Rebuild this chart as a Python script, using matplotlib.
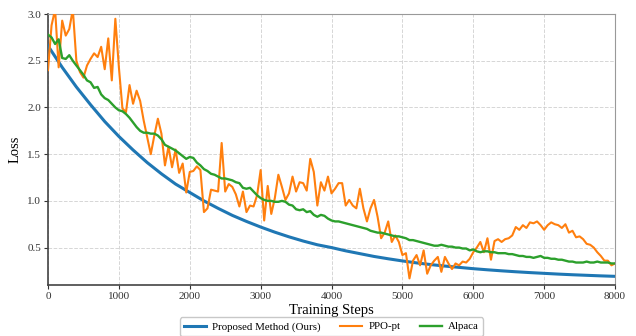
import matplotlib
matplotlib.use("Agg")
import matplotlib.pyplot as plt
import numpy as np

steps = list(range(0, 8001, 50))
blue_steps = list(range(0, 8001, 200))

proposed = [2.66, 2.43, 2.22, 2.03, 1.85, 1.69, 1.545, 1.41, 1.29, 1.18, 1.09,
            1.00, 0.92, 0.845, 0.78, 0.72, 0.665, 0.615, 0.57, 0.53, 0.50,
            0.465, 0.435, 0.405, 0.38, 0.357, 0.336, 0.318, 0.302, 0.288, 0.274,
            0.262, 0.251, 0.241, 0.232, 0.224, 0.216, 0.209, 0.203, 0.197, 0.192]

ppo_pt = [2.40, 2.88, 3.05, 2.43, 2.93, 2.77, 2.84, 3.05, 2.50, 2.38,
          2.32, 2.45, 2.52, 2.58, 2.54, 2.65, 2.41, 2.74, 2.29, 2.95,
          2.43, 1.99, 1.95, 2.24, 2.04, 2.18, 2.07, 1.86, 1.68, 1.50,
          1.70, 1.88, 1.72, 1.38, 1.58, 1.36, 1.55, 1.30, 1.40, 1.09,
          1.31, 1.32, 1.37, 1.33, 0.88, 0.92, 1.12, 1.11, 1.10, 1.62,
          1.10, 1.18, 1.15, 1.07, 0.94, 1.10, 0.88, 0.95, 0.94, 1.06,
          1.33, 0.79, 1.16, 0.86, 1.03, 1.28, 1.15, 1.01, 1.08, 1.26,
          1.10, 1.20, 1.19, 1.11, 1.45, 1.31, 0.95, 1.20, 1.11, 1.26,
          1.08, 1.13, 1.19, 1.19, 0.95, 1.01, 0.95, 0.92, 1.13, 0.92,
          0.78, 0.92, 1.01, 0.83, 0.60, 0.66, 0.78, 0.56, 0.63, 0.56,
          0.42, 0.44, 0.17, 0.36, 0.42, 0.31, 0.47, 0.22, 0.31, 0.36,
          0.40, 0.24, 0.40, 0.33, 0.27, 0.33, 0.31, 0.35, 0.34, 0.38,
          0.45, 0.50, 0.56, 0.45, 0.60, 0.37, 0.57, 0.59, 0.56, 0.59,
          0.60, 0.63, 0.72, 0.69, 0.74, 0.71, 0.77, 0.76, 0.78, 0.74,
          0.69, 0.74, 0.77, 0.75, 0.74, 0.71, 0.75, 0.66, 0.68, 0.61,
          0.62, 0.59, 0.54, 0.53, 0.50, 0.45, 0.41, 0.36, 0.36, 0.31,
          0.33]

alpaca = [2.78, 2.75, 2.68, 2.73, 2.53, 2.52, 2.56, 2.50, 2.45, 2.40,
          2.35, 2.29, 2.27, 2.21, 2.22, 2.14, 2.10, 2.08, 2.04, 2.00,
          1.97, 1.96, 1.93, 1.89, 1.84, 1.79, 1.75, 1.73, 1.73, 1.72,
          1.72, 1.70, 1.66, 1.60, 1.58, 1.56, 1.54, 1.51, 1.48, 1.45,
          1.47, 1.46, 1.41, 1.38, 1.34, 1.32, 1.29, 1.28, 1.26, 1.24,
          1.24, 1.23, 1.22, 1.20, 1.19, 1.14, 1.13, 1.14, 1.10, 1.06,
          1.03, 1.01, 1.00, 1.00, 0.99, 0.99, 1.00, 0.99, 0.96, 0.95,
          0.91, 0.90, 0.91, 0.88, 0.89, 0.85, 0.83, 0.85, 0.84, 0.81,
          0.79, 0.78, 0.78, 0.77, 0.76, 0.75, 0.74, 0.73, 0.72, 0.71,
          0.70, 0.68, 0.67, 0.66, 0.66, 0.65, 0.64, 0.63, 0.62, 0.62,
          0.61, 0.60, 0.58, 0.58, 0.57, 0.56, 0.55, 0.54, 0.53, 0.52,
          0.52, 0.53, 0.52, 0.51, 0.51, 0.50, 0.50, 0.49, 0.49, 0.47,
          0.48, 0.46, 0.45, 0.46, 0.46, 0.45, 0.45, 0.44, 0.44, 0.44,
          0.43, 0.43, 0.42, 0.41, 0.41, 0.40, 0.40, 0.39, 0.40, 0.41,
          0.39, 0.39, 0.38, 0.38, 0.37, 0.37, 0.36, 0.35, 0.35, 0.34,
          0.34, 0.34, 0.35, 0.34, 0.34, 0.35, 0.34, 0.34, 0.34, 0.33,
          0.33]

x_ticks = [0, 1000, 2000, 3000, 4000, 5000, 6000, 7000, 8000]
y_ticks = [0.5, 1.0, 1.5, 2.0, 2.5, 3.0]

plt.rcParams['font.family'] = ['Liberation Serif', 'DejaVu Serif']

fig = plt.figure(figsize=(6.36, 3.36), dpi=100)
ax = fig.add_axes([0.0755, 0.152, 0.8915, 0.806])

ax.plot(blue_steps, proposed, color='#1f77b4', lw=2.2, label='Proposed Method (Ours)', zorder=3)
ax.plot(steps, ppo_pt, color='#ff7f0e', lw=1.5, label='PPO-pt', zorder=4)
ax.plot(steps, alpaca, color='#2ca02c', lw=1.7, label='Alpaca', zorder=5)

ax.set_xlim(0, 8000)
ax.set_ylim(0.1, 3.0)
ax.set_xticks(x_ticks)
ax.set_yticks(y_ticks)
ax.set_xticklabels([str(v) for v in x_ticks])
ax.set_yticklabels([f"{v:.1f}" for v in y_ticks])
ax.tick_params(labelsize=8, colors='#333333', length=3, pad=2)
ax.grid(True, linestyle='--', color='#cccccc', linewidth=0.7, alpha=0.8)
for s in ['top', 'right']:
    ax.spines[s].set_color('#999999')
for s in ['left', 'bottom']:
    ax.spines[s].set_color('#444444')
    ax.spines[s].set_linewidth(1.2)

ax.set_xlabel('Training Steps', fontsize=10.5, labelpad=2)
ax.set_ylabel('Loss', fontsize=10.5)

leg = ax.legend(loc='upper center', bbox_to_anchor=(0.5, -0.10), ncol=3,
                fontsize=7.8, frameon=True, edgecolor='#bbbbbb', fancybox=True,
                handlelength=2.0, handletextpad=0.6, columnspacing=1.8)

fig.savefig('out.png', dpi=100)
